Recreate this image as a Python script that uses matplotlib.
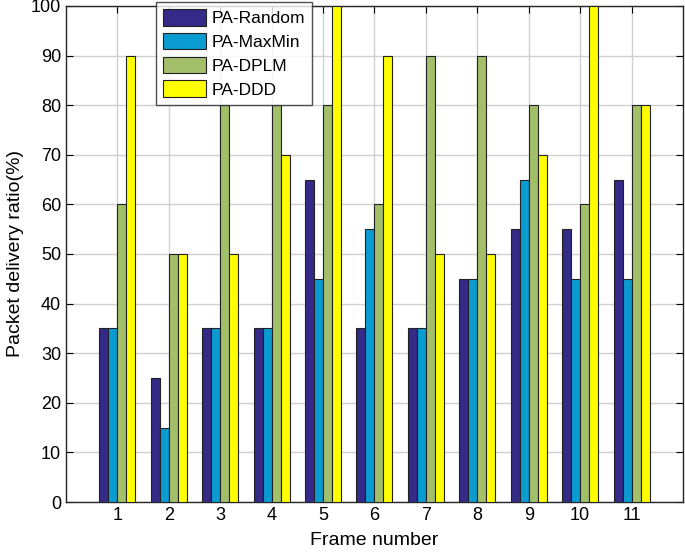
import matplotlib
matplotlib.use("Agg")
import matplotlib.pyplot as plt
import numpy as np

plt.rcParams['font.family'] = ['Liberation Sans', 'DejaVu Sans']

frames = [1, 2, 3, 4, 5, 6, 7, 8, 9, 10, 11]
pa_random = [35, 25, 35, 35, 65, 35, 35, 45, 55, 55, 65]
pa_maxmin = [35, 15, 35, 35, 45, 55, 35, 45, 65, 45, 45]
pa_dplm = [60, 50, 80, 80, 80, 60, 90, 90, 80, 60, 80]
pa_ddd = [90, 50, 50, 70, 100, 90, 50, 50, 70, 100, 80]
series_names = ['PA-Random', 'PA-MaxMin', 'PA-DPLM', 'PA-DDD']
colors = ['#352a87', '#0a9bd1', '#a3bf6a', '#ffff00']

fig = plt.figure(figsize=(6.85, 5.53), dpi=100)
ax = fig.add_axes([0.0964, 0.0922, 0.9006, 0.8970])

x = np.array(frames, dtype=float)
w = 0.175
data = [pa_random, pa_maxmin, pa_dplm, pa_ddd]
for i, (vals, name, c) in enumerate(zip(data, series_names, colors)):
    ax.bar(x + (i - 1.5) * w, vals, width=w, color=c, edgecolor='#222222',
           linewidth=0.8, label=name, zorder=3)

ax.set_xlim(0, 12)
ax.set_ylim(0, 100)
ax.set_xticks(frames)
ax.set_yticks(range(0, 101, 10))
ax.grid(True, color='#d0d0d0', linewidth=1.0, zorder=0)
ax.set_axisbelow(True)
ax.tick_params(direction='in', labelsize=13, top=True, right=True, length=5)
for s in ax.spines.values():
    s.set_linewidth(1.0)
    s.set_color('#262626')
ax.set_xlabel('Frame number', fontsize=14, labelpad=6)
ax.set_ylabel('Packet delivery ratio(%)', fontsize=14, labelpad=5)

leg = ax.legend(loc='upper left', bbox_to_anchor=(0.146, 1.008), fontsize=12.5,
                frameon=True, fancybox=False, edgecolor='#262626',
                handlelength=2.5, handleheight=1.1, borderpad=0.4,
                labelspacing=0.38, handletextpad=0.3, borderaxespad=0.0)
leg.get_frame().set_linewidth(1.0)

fig.savefig('out.png', dpi=100)
